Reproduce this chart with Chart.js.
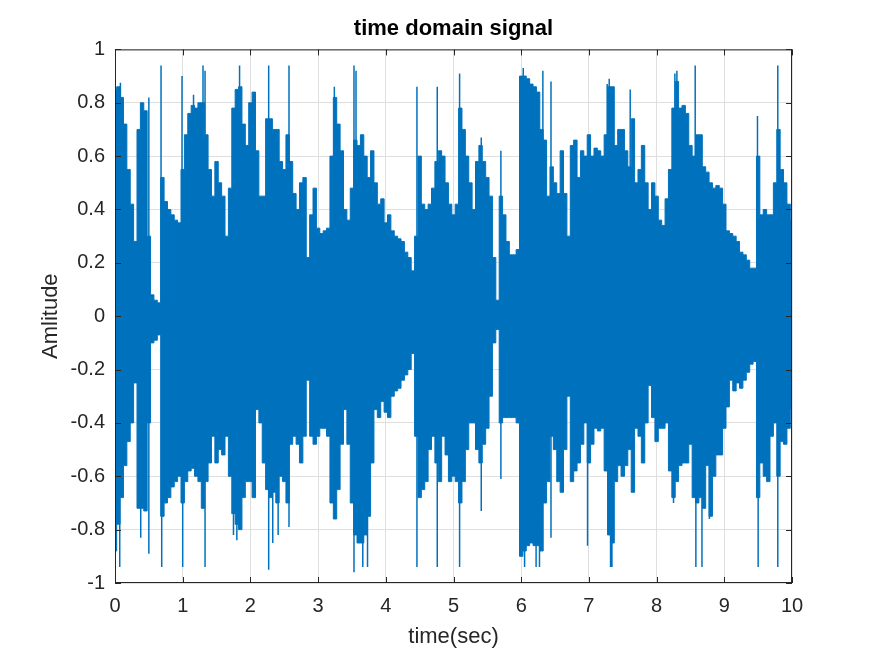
<!DOCTYPE html>
<html>
<head>
<meta charset="utf-8">
<title>time domain signal</title>
<script src="https://cdn.jsdelivr.net/npm/chart.js@4.4.1/dist/chart.umd.min.js"></script>
<style>
    html, body { margin: 0; padding: 0; background: #ffffff; }
    #wrap { width: 875px; height: 656px; }
</style>
</head>
<body>
<div id="wrap"><canvas id="signalChart" width="875" height="656"></canvas></div>
<script>
// envelope of the waveform, every 0.05 s (0 .. 10 s)
const envStep = 0.05;
const upperEnv = [
    0.85, 0.86, 0.82, 0.72, 0.55, 0.42, 0.28, 0.70, 0.80, 0.77, 0.30, 0.08, 0.06, 0.05, 0.52, 0.43, 0.40, 0.38, 0.36, 0.35,
    0.55, 0.68, 0.76, 0.79, 0.78, 0.80, 0.80, 0.68, 0.55, 0.45, 0.58, 0.50, 0.45, 0.30, 0.48, 0.78, 0.85, 0.86, 0.72, 0.64,
    0.80, 0.84, 0.62, 0.45, 0.45, 0.74, 0.74, 0.70, 0.70, 0.58, 0.55, 0.68, 0.58, 0.46, 0.40, 0.50, 0.52, 0.22, 0.38, 0.48,
    0.33, 0.31, 0.32, 0.33, 0.60, 0.82, 0.72, 0.62, 0.40, 0.36, 0.48, 0.66, 0.64, 0.68, 0.60, 0.52, 0.62, 0.50, 0.42, 0.44,
    0.35, 0.38, 0.32, 0.30, 0.29, 0.28, 0.24, 0.22, 0.17, 0.30, 0.60, 0.42, 0.40, 0.42, 0.48, 0.58, 0.62, 0.60, 0.50, 0.42,
    0.38, 0.42, 0.78, 0.70, 0.60, 0.50, 0.40, 0.58, 0.64, 0.58, 0.52, 0.45, 0.22, 0.06, 0.45, 0.38, 0.28, 0.23, 0.23, 0.25,
    0.90, 0.90, 0.89, 0.87, 0.86, 0.84, 0.70, 0.66, 0.45, 0.56, 0.50, 0.46, 0.62, 0.46, 0.30, 0.64, 0.66, 0.52, 0.62, 0.60,
    0.68, 0.60, 0.63, 0.62, 0.60, 0.68, 0.86, 0.86, 0.64, 0.70, 0.70, 0.62, 0.56, 0.74, 0.50, 0.55, 0.64, 0.50, 0.40, 0.50,
    0.45, 0.36, 0.34, 0.44, 0.55, 0.78, 0.88, 0.78, 0.79, 0.76, 0.64, 0.60, 0.68, 0.68, 0.56, 0.54, 0.50, 0.48, 0.49, 0.48,
    0.42, 0.32, 0.31, 0.30, 0.28, 0.24, 0.23, 0.21, 0.18, 0.18, 0.60, 0.38, 0.40, 0.38, 0.38, 0.50, 0.70, 0.55, 0.50, 0.42,
    0.36
];
const lowerEnv = [
    -0.88, -0.78, -0.68, -0.56, -0.47, -0.40, -0.25, -0.72, -0.72, -0.73, -0.40, -0.10, -0.09, -0.07, -0.75, -0.70, -0.68, -0.64, -0.62, -0.60,
    -0.70, -0.62, -0.58, -0.57, -0.60, -0.62, -0.72, -0.62, -0.55, -0.45, -0.55, -0.50, -0.52, -0.45, -0.60, -0.74, -0.78, -0.80, -0.68, -0.62,
    -0.62, -0.68, -0.35, -0.40, -0.55, -0.65, -0.68, -0.66, -0.70, -0.60, -0.62, -0.70, -0.48, -0.45, -0.48, -0.55, -0.45, -0.24, -0.45, -0.48,
    -0.45, -0.42, -0.42, -0.45, -0.70, -0.76, -0.65, -0.48, -0.35, -0.48, -0.70, -0.82, -0.85, -0.85, -0.82, -0.75, -0.55, -0.35, -0.38, -0.32,
    -0.36, -0.38, -0.30, -0.28, -0.27, -0.24, -0.22, -0.20, -0.14, -0.45, -0.68, -0.65, -0.62, -0.50, -0.45, -0.55, -0.62, -0.45, -0.52, -0.62,
    -0.60, -0.62, -0.70, -0.62, -0.50, -0.40, -0.40, -0.50, -0.55, -0.48, -0.42, -0.30, -0.10, -0.05, -0.40, -0.38, -0.38, -0.38, -0.38, -0.40,
    -0.90, -0.88, -0.86, -0.85, -0.86, -0.86, -0.88, -0.70, -0.62, -0.45, -0.50, -0.62, -0.66, -0.50, -0.30, -0.62, -0.58, -0.55, -0.48, -0.40,
    -0.55, -0.48, -0.42, -0.43, -0.42, -0.58, -0.82, -0.85, -0.62, -0.56, -0.60, -0.56, -0.50, -0.66, -0.42, -0.45, -0.55, -0.40, -0.26, -0.38,
    -0.47, -0.42, -0.42, -0.40, -0.58, -0.68, -0.62, -0.56, -0.55, -0.55, -0.48, -0.68, -0.70, -0.68, -0.72, -0.56, -0.75, -0.60, -0.52, -0.52,
    -0.42, -0.34, -0.24, -0.28, -0.25, -0.27, -0.24, -0.21, -0.18, -0.17, -0.68, -0.55, -0.60, -0.62, -0.45, -0.40, -0.60, -0.47, -0.48, -0.42,
    -0.35
];

// isolated tall peaks sticking out of the envelope (time in s, amplitude)
const peakTimes = [0.08, 0.50, 0.68, 0.99, 1.16, 1.30, 1.33, 1.84, 2.27, 2.57, 3.24, 3.53, 3.56, 4.46, 4.76,
    5.09, 5.41, 5.70, 6.03, 6.32, 6.44, 7.27, 7.30, 7.61, 8.27, 8.30, 8.57, 9.49, 9.79];
const peakValues = [0.875, 0.82, 0.94, 0.90, 0.83, 0.94, 0.92, 0.94, 0.94, 0.94, 0.86, 0.94, 0.92, 0.86, 0.86,
    0.91, 0.67, 0.62, 0.93, 0.92, 0.88, 0.87, 0.89, 0.85, 0.91, 0.92, 0.94, 0.75, 0.94];
const troughTimes = [0.07, 0.38, 0.50, 0.69, 1.00, 1.33, 1.75, 1.80, 2.27, 2.33, 2.41, 2.57, 3.53, 3.66, 3.73,
    4.46, 4.76, 5.09, 5.41, 5.70, 6.05, 6.22, 6.27, 6.44, 6.98, 7.32, 7.34, 8.25, 8.58, 8.67, 8.78, 9.50, 9.79];
const troughValues = [-0.94, -0.83, -0.89, -0.94, -0.94, -0.94, -0.82, -0.84, -0.95, -0.85, -0.82, -0.79, -0.96, -0.94, -0.94,
    -0.94, -0.94, -0.94, -0.73, -0.61, -0.94, -0.94, -0.94, -0.83, -0.86, -0.94, -0.94, -0.70, -0.94, -0.94, -0.76, -0.94, -0.94];

const lineBlue = '#0072BD';
const axisGrey = '#262626';
const fontFamily = "'Liberation Sans', Arial, Helvetica, sans-serif";

// Function to build {x, y} points of an envelope
function envelopePoints(values) {
    return values.map((v, i) => ({ x: +(i * envStep).toFixed(2), y: v }));
}

// Function to build vertical strokes from zero out to each peak
function spikePoints(times, values) {
    const pts = [];
    times.forEach((t, i) => {
        pts.push({ x: t, y: 0 }, { x: t, y: values[i] }, { x: t, y: null });
    });
    return pts;
}

// box round the axes with inward tick marks, like the original figure
const axesBox = {
    id: 'axesBox',
    afterDatasetsDraw(chart) {
        const { ctx, chartArea: a, scales } = chart;
        const len = 6;
        ctx.save();
        ctx.strokeStyle = axisGrey;
        ctx.lineWidth = 1;
        ctx.strokeRect(a.left + 0.5, a.top + 0.5, a.right - a.left - 1, a.bottom - a.top - 1);
        ctx.beginPath();
        scales.x.ticks.forEach(t => {
            const px = Math.round(scales.x.getPixelForValue(t.value)) + 0.5;
            ctx.moveTo(px, a.bottom); ctx.lineTo(px, a.bottom - len);
            ctx.moveTo(px, a.top); ctx.lineTo(px, a.top + len);
        });
        scales.y.ticks.forEach(t => {
            const py = Math.round(scales.y.getPixelForValue(t.value)) + 0.5;
            ctx.moveTo(a.left, py); ctx.lineTo(a.left + len, py);
            ctx.moveTo(a.right, py); ctx.lineTo(a.right - len, py);
        });
        ctx.stroke();
        ctx.restore();
    }
};

const ctx = document.getElementById('signalChart').getContext('2d');
window.signalChart = new Chart(ctx, {
    type: 'line',
    data: {
        datasets: [
            {
                label: 'upper',
                data: envelopePoints(upperEnv),
                borderColor: lineBlue,
                backgroundColor: lineBlue,
                borderWidth: 1,
                pointRadius: 0,
                stepped: 'middle',
                fill: '+1'
            },
            {
                label: 'lower',
                data: envelopePoints(lowerEnv),
                borderColor: lineBlue,
                borderWidth: 1,
                pointRadius: 0,
                stepped: 'middle',
                fill: false
            },
            {
                label: 'peaks',
                data: spikePoints(peakTimes.concat(troughTimes), peakValues.concat(troughValues)),
                borderColor: lineBlue,
                borderWidth: 1.5,
                pointRadius: 0,
                spanGaps: false,
                fill: false
            }
        ]
    },
    options: {
        responsive: false,
        animation: false,
        layout: { padding: { left: 0, right: 83, top: 0, bottom: 0 } },
        plugins: {
            legend: { display: false },
            tooltip: { enabled: false },
            title: {
                display: true,
                text: 'time domain signal',
                color: '#000000',
                fullSize: false,
                font: { family: fontFamily, size: 22, weight: 'bold' },
                padding: { top: 16, bottom: 7 }
            }
        },
        scales: {
            x: {
                type: 'linear',
                min: 0,
                max: 10,
                afterFit: scale => { scale.height = 73; },
                border: { display: false },
                grid: { color: '#dfdfdf', drawTicks: false },
                ticks: {
                    stepSize: 1,
                    color: axisGrey,
                    padding: 11,
                    font: { family: fontFamily, size: 20 }
                },
                title: {
                    display: true,
                    text: 'time(sec)',
                    color: axisGrey,
                    font: { family: fontFamily, size: 22 },
                    padding: { top: 0, bottom: 6 }
                }
            },
            y: {
                min: -1,
                max: 1,
                afterFit: scale => { scale.width = 115; },
                border: { display: false },
                grid: { color: '#dfdfdf', drawTicks: false },
                ticks: {
                    stepSize: 0.2,
                    color: axisGrey,
                    padding: 10,
                    font: { family: fontFamily, size: 20 },
                    callback: value => Number(value.toFixed(1)).toString()
                },
                title: {
                    display: true,
                    text: 'Amlitude',
                    color: axisGrey,
                    font: { family: fontFamily, size: 22 },
                    padding: { top: 38, bottom: 0 }
                }
            }
        }
    },
    plugins: [axesBox]
});
</script>
</body>
</html>
